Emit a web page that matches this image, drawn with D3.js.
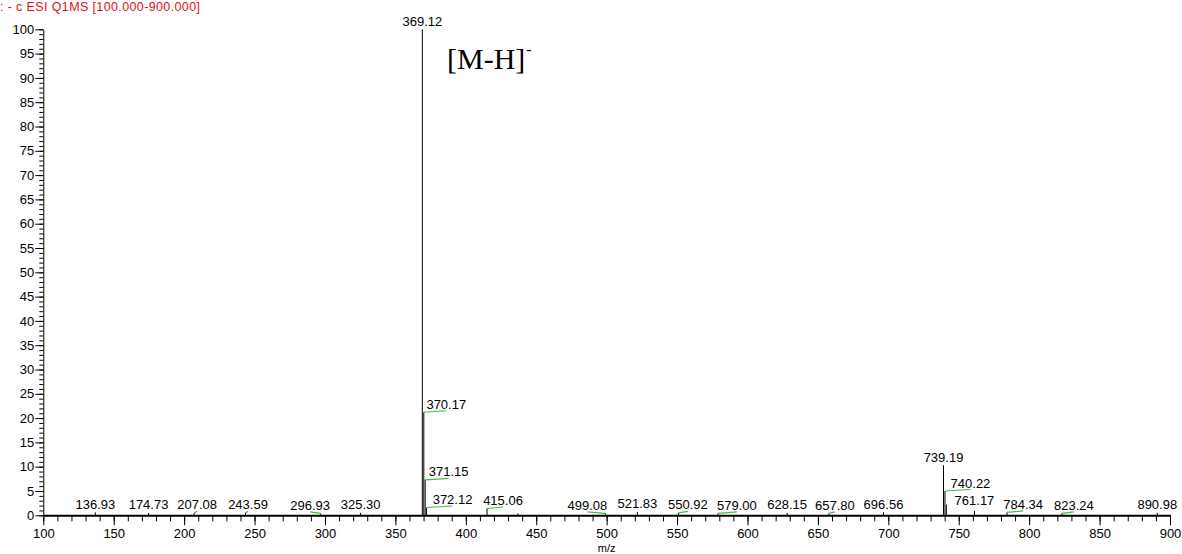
<!DOCTYPE html>
<html>
<head>
<meta charset="utf-8">
<script src="https://cdn.jsdelivr.net/npm/d3@7"></script>
<style>
  body { margin: 0; background: #fff; }
  svg { display: block; font-family: "Liberation Sans", Arial, sans-serif; }
</style>
</head>
<body>
<div id="chart-container"></div>
<script>
// mass spectrum, values
const peakMz = [136.93, 174.73, 207.08, 243.59, 296.93, 325.30, 369.12, 370.17, 371.15, 372.12,
  415.06, 437.0, 499.08, 521.83, 550.92, 579.00, 628.15, 657.80, 696.56, 739.19, 740.22, 741.2,
  761.17, 784.34, 823.24, 890.98];
const peakIntensity = [0.6, 0.5, 0.5, 0.5, 0.4, 0.5, 100, 21.2, 7.3, 1.6,
  1.4, 0.4, 0.4, 0.7, 0.5, 0.4, 0.5, 0.4, 0.6, 10.3, 5.0, 2.2,
  0.9, 0.6, 0.4, 0.5];
// peaks that carry an m/z label
const labeledMz = [136.93, 174.73, 207.08, 243.59, 296.93, 325.30, 369.12, 370.17, 371.15, 372.12,
  415.06, 499.08, 521.83, 550.92, 579.00, 628.15, 657.80, 696.56, 739.19, 740.22,
  761.17, 784.34, 823.24, 890.98];
const xTicks = [100, 150, 200, 250, 300, 350, 400, 450, 500, 550, 600, 650, 700, 750, 800, 850, 900];
const yTicks = [0, 5, 10, 15, 20, 25, 30, 35, 40, 45, 50, 55, 60, 65, 70, 75, 80, 85, 90, 95, 100];

const title = ": - c ESI Q1MS [100.000-900.000]";
const annotation = "[M-H]";

// label layout: sideways shift (px) where the software pushed labels apart
const labelNudge = {
  "207.08": [3, 0], "243.59": [2.5, 0], "296.93": [-10.5, 0], "370.17": [22.5, 0], "371.15": [23.5, 0],
  "372.12": [26, 0], "415.06": [16, 0], "499.08": [-18, 0], "550.92": [9.5, 0], "579.00": [19, 0],
  "657.80": [6, 0], "740.22": [25.5, 0], "761.17": [0, -2.5], "784.34": [16, 0], "823.24": [12, 0]
};

function chart() {
  const width = 1182;
  const height = 554;
  const marginTop = 29.3;
  const marginLeft = 43.3;
  const marginRight = 12;
  const marginBottom = 38.7;

  const peaks = peakMz.map((mz, i) => ({mz, v: peakIntensity[i]}));

  const x = d3.scaleLinear()
    .domain([100, 900])
    .range([marginLeft, width - marginRight]);

  const y = d3.scaleLinear()
    .domain([0, 100])
    .range([height - marginBottom, marginTop]);

  const svg = d3.create("svg")
    .attr("width", width)
    .attr("height", height)
    .attr("viewBox", [0, 0, width, height]);

  // title
  svg.append("text")
    .attr("x", 0)
    .attr("y", 10.5)
    .attr("fill", "#e01010")
    .style("font-size", "12.5px")
    .attr("textLength", 200)
    .text(title);

  // minor ticks x
  svg.append("g")
    .attr("transform", `translate(0,${y(0)})`)
    .call(d3.axisBottom(x).tickValues(d3.range(100, 901, 10)).tickSize(6).tickFormat(""))
    .call(g => g.select(".domain").remove());

  // x-axis
  svg.append("g")
    .attr("transform", `translate(0,${y(0)})`)
    .call(d3.axisBottom(x).tickValues(xTicks).tickSize(10).tickPadding(3).tickSizeOuter(0))
    .call(g => g.select(".domain").attr("stroke-width", 2))
    .selectAll("text")
    .style("font-size", "13px")
    .attr("fill", "#000");

  // minor ticks y
  svg.append("g")
    .attr("transform", `translate(${marginLeft},0)`)
    .call(d3.axisLeft(y).tickValues(d3.range(0, 101, 1)).tickSize(4).tickFormat(""))
    .call(g => g.select(".domain").remove());

  // y-axis
  svg.append("g")
    .attr("transform", `translate(${marginLeft},0)`)
    .call(d3.axisLeft(y).tickValues(yTicks).tickSize(8).tickPadding(1).tickSizeOuter(0))
    .selectAll("text")
    .style("font-size", "13px")
    .attr("fill", "#000");

  svg.append("text")
    .attr("x", (x(100) + x(900)) / 2)
    .attr("y", 552)
    .attr("text-anchor", "middle")
    .style("font-size", "11px")
    .text("m/z");

  // peaks
  svg.append("g")
    .attr("stroke", "#000")
    .attr("stroke-width", 1)
    .selectAll("line")
    .data(peaks)
    .join("line")
    .attr("x1", d => x(d.mz))
    .attr("x2", d => x(d.mz))
    .attr("y1", y(0))
    .attr("y2", d => y(d.v));

  // labels
  const labels = peaks.filter(d => labeledMz.includes(d.mz)).map(d => {
    const n = labelNudge[d.mz.toFixed(2)] || [0, 0];
    return {...d, lx: x(d.mz) + n[0], ly: y(d.v) - 3.5 + n[1], dx: n[0]};
  });

  svg.append("g")
    .attr("stroke", "#44bb44")
    .attr("stroke-width", 1.2)
    .selectAll("line")
    .data(labels.filter(d => Math.abs(d.dx) > 2))
    .join("line")
    .attr("x1", d => x(d.mz))
    .attr("y1", d => y(d.v))
    .attr("x2", d => d.lx)
    .attr("y2", d => y(d.v) - 1.5);

  svg.append("g")
    .selectAll("text")
    .data(labels)
    .join("text")
    .attr("x", d => d.lx)
    .attr("y", d => d.ly)
    .attr("text-anchor", "middle")
    .style("font-size", "13px")
    .text(d => d.mz.toFixed(2));

  // [M-H]- annotation
  const ann = svg.append("text")
    .attr("x", 447)
    .attr("y", 68.5)
    .style("font-family", "'Liberation Serif', 'Times New Roman', serif")
    .style("font-size", "30px")
    .text(annotation);
  ann.append("tspan")
    .attr("dy", -14)
    .attr("dx", 1)
    .style("font-size", "16px")
    .text("-");

  d3.select("#chart-container").append(() => svg.node());
}
chart();
</script>
</body>
</html>
